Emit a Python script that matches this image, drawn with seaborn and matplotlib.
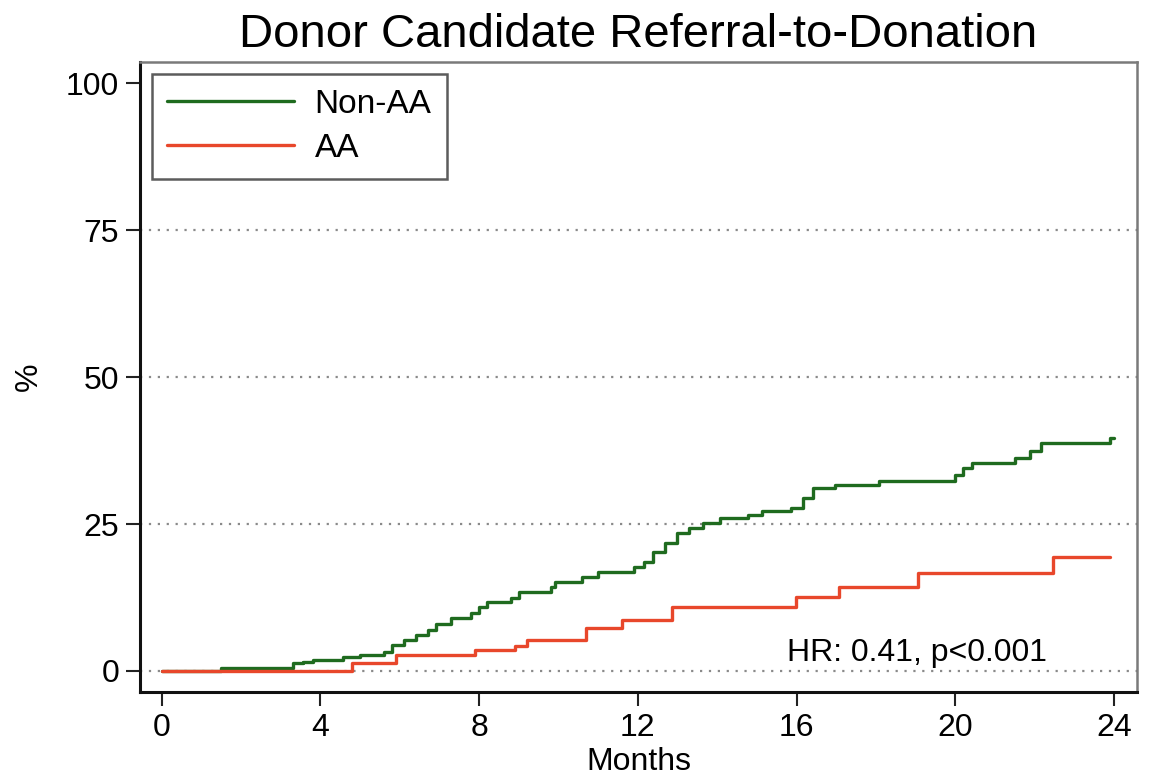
import pandas as pd
import matplotlib
matplotlib.use("Agg")
import matplotlib.pyplot as plt
import seaborn as sns

# Cumulative donation (%), step curves
nonaa_months = [0, 1.5, 3.3, 3.55, 3.8, 4.56, 5.0, 5.6, 5.8, 6.1, 6.4, 6.7, 6.9, 7.3, 7.8, 8.0,
                8.2, 8.8, 9.0, 9.8, 9.9, 10.6, 11.0, 11.9, 12.16, 12.38, 12.69, 12.99, 13.29,
                13.64, 14.08, 14.77, 15.12, 15.86, 16.16, 16.42, 16.98, 18.07, 19.98, 20.2,
                20.42, 21.5, 21.89, 22.15, 23.9, 24.0]
nonaa_pct = [0, 0.5, 1.4, 1.6, 1.9, 2.3, 2.7, 3.3, 4.4, 5.3, 6.1, 7.0, 8.0, 9.0, 9.8, 10.9,
             11.7, 12.4, 13.4, 14.3, 15.1, 16.0, 16.8, 17.7, 18.5, 20.2, 21.7, 23.4, 24.3,
             25.1, 26.1, 26.5, 27.2, 27.7, 29.4, 31.1, 31.6, 32.4, 33.3, 34.5,
             35.3, 36.3, 37.5, 38.7, 39.7, 39.7]
aa_months = [0, 4.8, 5.9, 7.9, 8.9, 9.2, 10.7, 11.6, 12.86, 15.99, 17.07, 19.07, 22.46, 23.9]
aa_pct = [0, 1.4, 2.7, 3.6, 4.2, 5.3, 7.3, 8.7, 10.9, 12.6, 14.3, 16.6, 19.4, 19.4]

groups = ["Non-AA", "AA"]
colors = {"Non-AA": "#1f6b1f", "AA": "#e8472b"}
x_ticks = [0, 4, 8, 12, 16, 20, 24]
y_ticks = [0, 25, 50, 75, 100]
grid_levels = [0, 25, 50, 75]

df = pd.concat([
    pd.DataFrame({"Months": nonaa_months, "pct": nonaa_pct, "group": "Non-AA"}),
    pd.DataFrame({"Months": aa_months, "pct": aa_pct, "group": "AA"}),
])

sns.set_style("white")
plt.rcParams["font.family"] = ["Liberation Sans", "DejaVu Sans"]
plt.rcParams["text.color"] = "black"
plt.rcParams["axes.labelcolor"] = "black"
plt.rcParams["xtick.color"] = "black"
plt.rcParams["ytick.color"] = "black"

fig = plt.figure(figsize=(11.52, 7.81), dpi=100)
ax = fig.add_axes([0.1215, 0.114, 0.8655, 0.8066])

for lev in grid_levels:
    ax.axhline(lev, color="#8a8a8a", linestyle=(0, (1, 3)), linewidth=1.6, zorder=0)

sns.lineplot(data=df, x="Months", y="pct", hue="group", hue_order=groups, palette=colors,
             drawstyle="steps-post", estimator=None, linewidth=2.4, ax=ax)

ax.set_xlim(-0.55, 24.58)
ax.set_ylim(-3.57, 103.6)
ax.set_xticks(x_ticks)
ax.set_yticks(y_ticks)
ax.tick_params(axis="both", direction="out", length=10, width=1.5, color="#222222",
               labelsize=23, pad=5, bottom=True, left=True)
ax.set_xlabel("Months", fontsize=23, labelpad=3)
ax.set_ylabel("%", fontsize=23, labelpad=16)
ax.set_title("Donor Candidate Referral-to-Donation", fontsize=34, pad=11)

for side in ["left", "bottom"]:
    ax.spines[side].set_color("#111111")
    ax.spines[side].set_linewidth(2.2)
for side in ["top", "right"]:
    ax.spines[side].set_color("#7a7a7a")
    ax.spines[side].set_linewidth(1.8)

ax.text(22.3, 1.7, "HR: 0.41, p<0.001", ha="right", va="baseline", fontsize=23)

leg = ax.legend(loc="upper left", fontsize=24, frameon=True, fancybox=False,
                edgecolor="#333333", handlelength=3.8, handletextpad=0.63, borderpad=0.46,
                labelspacing=0.38, borderaxespad=0.35)
leg.get_frame().set_linewidth(1.8)

fig.savefig("out.png", dpi=100)
